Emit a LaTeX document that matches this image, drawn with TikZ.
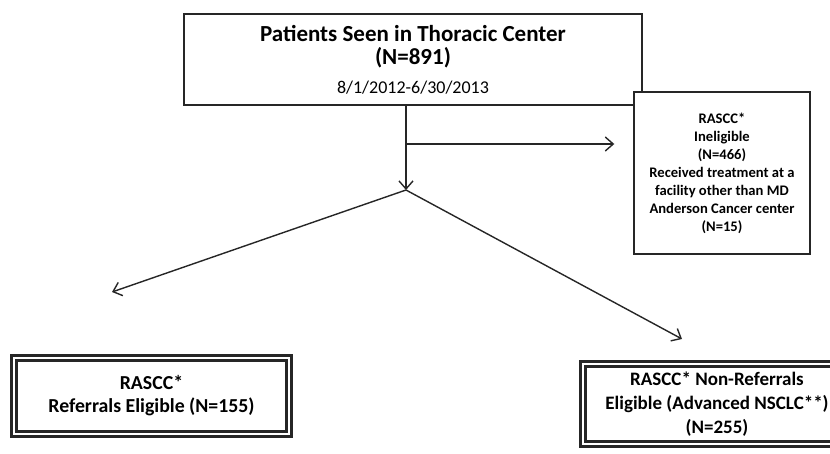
\documentclass[tikz,border=0pt]{standalone}
\usepackage{fontspec}
\setmainfont{Carlito}
\usetikzlibrary{arrows.meta}

\begin{document}
\begin{tikzpicture}[x=1pt, y=-1pt, line width=1.4pt, draw=black!85]
  \tikzset{flowbox/.style={draw=black!85, align=center, inner sep=0pt, font=\bfseries},
           endbox/.style={flowbox, line width=2.6pt, double=white, double distance=2pt},
           flowarrow/.style={-{Straight Barb[length=8pt, width=14pt, line width=1.4pt]}}}
  \useasboundingbox (0,0) rectangle (830,453);
  % boxes
  \node[flowbox, minimum width=458pt, minimum height=91pt,
        font=\bfseries\fontsize{23}{23}\selectfont] (seen) at (413,59.5)
       {Patients Seen in Thoracic Center\\(N=891)\\[6pt]
        {\mdseries\fontsize{18}{23}\selectfont 8/1/2012-6/30/2013}};
  \node[flowbox, fill=white, minimum width=176pt, minimum height=162pt,
        font=\bfseries\fontsize{14.6}{18}\selectfont] (inel) at (722,173)
       {RASCC*\\Ineligible\\(N=466)\\Received treatment at a\\facility other than MD\\Anderson Cancer center\\(N=15)};
  \node[endbox, minimum width=275pt, minimum height=76pt,
        font=\bfseries\fontsize{19.8}{23}\selectfont] (refer) at (151.5,396)
       {RASCC*\\Referrals Eligible (N=155)};
  \node[endbox, minimum width=268pt, minimum height=80pt,
        font=\bfseries\fontsize{19}{24}\selectfont] (nonref) at (717,404)
       {RASCC* Non-Referrals\\Eligible (Advanced NSCLC**)\\(N=255)};
  % connectors
  \coordinate (branch) at (406,144);
  \coordinate (split) at (406,190);
  \coordinate (refertip) at (112,292);
  \coordinate (nonreftip) at (682,339);
  \draw[flowarrow] (split |- seen.south) -- (split);
  \draw[flowarrow, shorten >=19pt] (branch) -- (branch -| inel.west);
  \draw[flowarrow] (split) -- (refertip);
  \draw[flowarrow] (split) -- (nonreftip);
\end{tikzpicture}
\end{document}
